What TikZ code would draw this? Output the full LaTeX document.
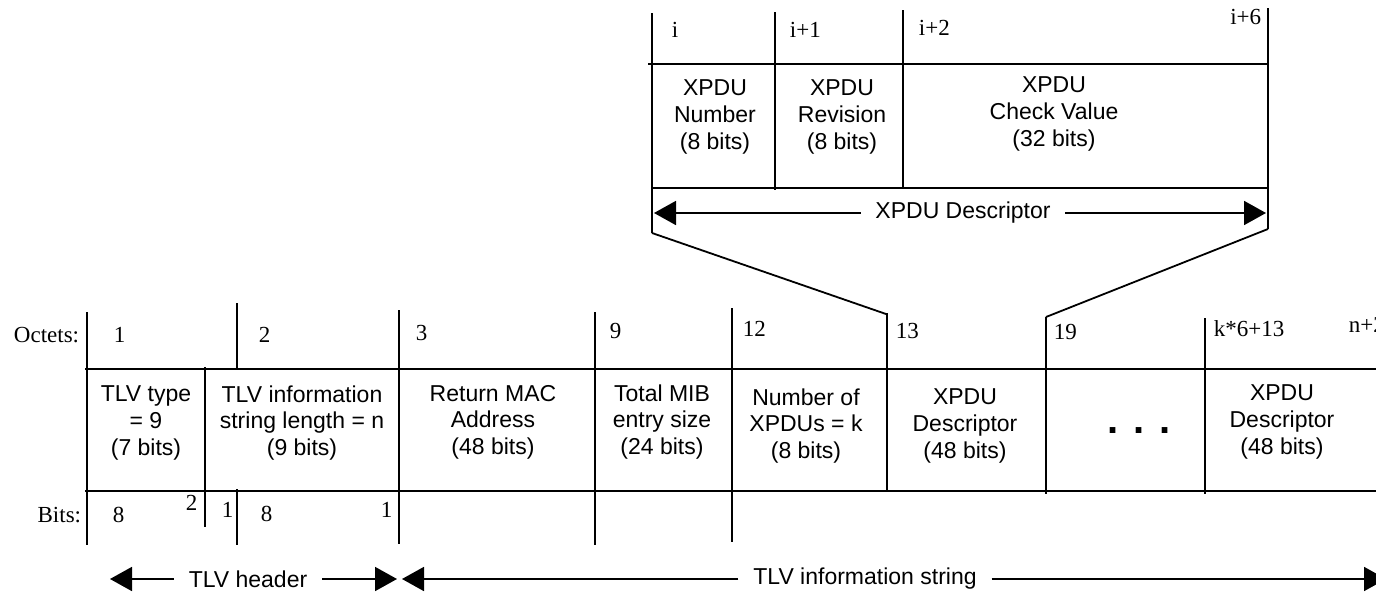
\documentclass[tikz,border=0pt]{standalone}
\usepackage{fontspec}
\setmainfont{Liberation Serif}
\setsansfont{Liberation Sans}
\usetikzlibrary{arrows.meta}

\begin{document}
\begin{tikzpicture}[x=0.5pt, y=-0.5pt, line width=0.9pt,
  cell/.style={align=center, inner sep=0pt, font=\sffamily\fontsize{11.5}{13.3}\selectfont},
  num/.style={anchor=base west, inner sep=0pt, font=\fontsize{11.5}{13}\selectfont},
  tag/.style={num, anchor=base east},
  lbl/.style={font=\sffamily\fontsize{11.5}{13.3}\selectfont, inner sep=7pt},
  span/.style={-{Triangle[length=11pt,width=12pt]}}]

\useasboundingbox (0,0) rectangle (1376,594);

% XPDU descriptor detail
\draw (648,64) -- (1268,64);
\draw (652,188) -- (1268,188);
\draw (652,13) -- (652,233);
\draw (775,12) -- (775,190);
\draw (903,10) -- (903,188);
\draw (1268,8) -- (1268,229);

\node[num] (ti) at (671,38) {i};
\node[num] (ti1) at (789,37) {i+1};
\node[num] (ti2) at (918,35) {i+2};
\node[tag] (ti6) at (1262,25) {i+6};

\node[cell] (xnum) at (715,117) {XPDU\\Number\\(8 bits)};
\node[cell] (xrev) at (842,117) {XPDU\\Revision\\(8 bits)};
\node[cell] (xchk) at (1054,114) {XPDU\\Check Value\\(32 bits)};

\node[lbl] (dsc) at (963,213) {XPDU Descriptor};
\coordinate (dl) at (654,213);
\coordinate (dr) at (1266,213);
\draw[span] (dsc.west) -- (dl);
\draw[span] (dsc.east) -- (dr);

% zoom lines
\draw (652,233) -- (886,314);
\draw (1268,229) -- (1046,317);

% TLV frame
\draw (85,369) -- (1376,369);
\draw (85,491) -- (1376,491);
\draw (87,312) -- (87,545);
\draw (237,303) -- (237,369);
\draw (237,489) -- (237,545);
\draw (205,367) -- (205,527);
\draw (399,310) -- (399,544);
\draw (595,312) -- (595,545);
\draw (732,308) -- (732,542);
\draw (887,313) -- (887,491);
\draw (1046,317) -- (1046,494);
\draw (1205,318) -- (1205,494);

\node[tag] (oct) at (80,342) {Octets:};
\node[num] (o1) at (113,342) {1};
\node[num] (o2) at (258,342) {2};
\node[num] (o3) at (415,340) {3};
\node[num] (o9) at (609,338) {9};
\node[num] (o12) at (742,336) {12};
\node[num] (o13) at (895,338) {13};
\node[num] (o19) at (1053,339) {19};
\node[num] (ok) at (1213,336) {k*6+13};
\node[num] (on) at (1348,332) {n+2};

\node[tag] (bit) at (82,522) {Bits:};
\node[num] (b8) at (112,522) {8};
\node[num] (b2) at (185,510) {2};
\node[num] (b1) at (221,517) {1};
\node[num] (b8b) at (260,521) {8};
\node[num] (b1b) at (380,517) {1};

\node[cell] (type) at (146,423) {TLV type\\= 9\\(7 bits)};
\node[cell] (len) at (302,423) {TLV information\\string length = n\\(9 bits)};
\node[cell] (mac) at (493,422) {Return MAC\\Address\\(48 bits)};
\node[cell] (mib) at (662,422) {Total MIB\\entry size\\(24 bits)};
\node[cell] (cnt) at (806,426) {Number of\\XPDUs = k\\(8 bits)};
\node[cell] (d1) at (965,426) {XPDU\\Descriptor\\(48 bits)};
\node[cell, font=\sffamily\bfseries\fontsize{20}{20}\selectfont] (dots) at (1139,431) {. . .};
\node[cell] (dk) at (1282,422) {XPDU\\Descriptor\\(48 bits)};

% spans
\node[lbl] (hdr) at (248,579) {TLV header};
\coordinate (hl) at (110,579);
\coordinate (hr) at (397,579);
\draw[span] (hdr.west) -- (hl);
\draw[span] (hdr.east) -- (hr);

\node[lbl] (inf) at (865,579) {TLV information string};
\coordinate (il) at (402,579);
\coordinate (ir) at (1386,579);
\draw[span] (inf.west) -- (il);
\draw[span] (inf.east) -- (ir);

\end{tikzpicture}
\end{document}
